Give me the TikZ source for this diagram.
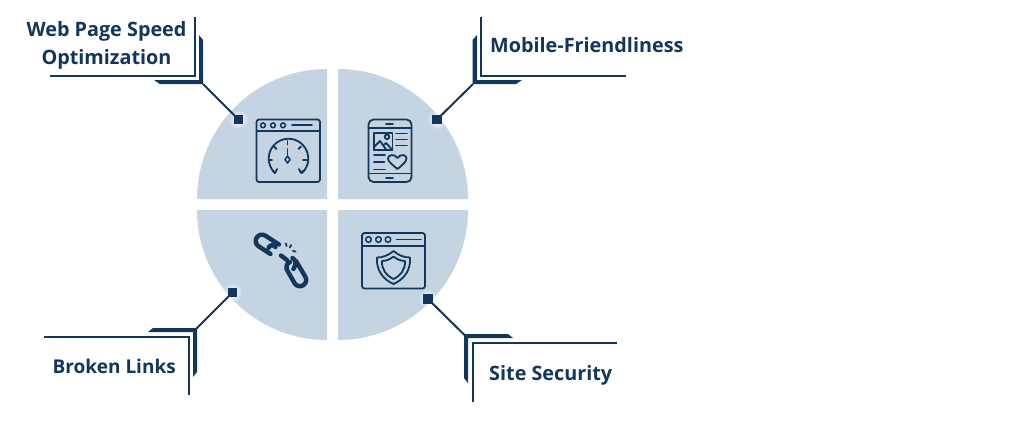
\documentclass[tikz,border=0pt]{standalone}
\usepackage{fontspec}
\setmainfont{Open Sans}
\definecolor{navy}{HTML}{12375A}
\definecolor{quad}{HTML}{C5D4E3}
\tikzset{
  thin line/.style={draw=navy,line width=2pt},
  thick bar/.style={fill=navy,draw=none},
  pad/.style={fill=navy,draw=none,minimum size=9.5pt,inner sep=0pt,rectangle},
  label text/.style={text=navy,font=\fontsize{19.8}{28}\selectfont\bfseries,inner sep=0pt,align=center},
  icon/.style={draw=navy,line width=1.8pt,line cap=round,line join=round},
  link/.style={draw=navy,line width=4.4pt,line cap=round,line join=round},
}
\begin{document}
\begin{tikzpicture}[x=1pt,y=1pt,yscale=-1]
\useasboundingbox (0,0) rectangle (1024,424);
\fill[white] (0,0) rectangle (1024,424);
% quadrants
\fill[quad] (327,199) -- (197,199) arc (180:270:130) -- cycle;
\fill[quad] (338,199) -- (338,69) arc (270:360:130) -- cycle;
\fill[quad] (327,210) -- (327,340) arc (90:180:130) -- cycle;
\fill[quad] (338,210) -- (468,210) arc (0:90:130) -- cycle;
% glows
\begin{scope}
\clip (327,199) -- (197,199) arc (180:270:130) -- cycle;
\shade[inner color=white,outer color=quad] (238.5,119.5) circle (10);
\end{scope}
\begin{scope}
\clip (338,199) -- (338,69) arc (270:360:130) -- cycle;
\shade[inner color=white,outer color=quad] (437,119.5) circle (10);
\end{scope}
\begin{scope}
\clip (327,210) -- (327,340) arc (90:180:130) -- cycle;
\shade[inner color=white,outer color=quad] (232.5,292.5) circle (10);
\end{scope}
\begin{scope}
\clip (338,210) -- (468,210) arc (0:90:130) -- cycle;
\shade[inner color=white,outer color=quad] (428,299) circle (10);
\end{scope}
% pads
\node[pad] (s1) at (238.5,119.5) {};
\node[pad] (s2) at (437,119.5) {};
\node[pad] (s3) at (232.5,292.5) {};
\node[pad] (s4) at (428,299) {};
\coordinate (k1) at (203,84);
\coordinate (k2) at (473,84);
\coordinate (k3) at (196,329);
\coordinate (k4) at (464.5,335);
\draw[thin line] (k1) -- (s1.center);
\draw[thin line] (k2) -- (s2.center);
\draw[thin line] (k3) -- (s3.center);
\draw[thin line] (k4) -- (s4.center);
% brackets
\draw[thin line] (194.5,17) -- (194.5,76) -- (50,76);
\fill[thick bar] (199,35) -- (203,40) -- (203,84) -- (160,84) -- (154,80) -- (199,80) -- cycle;
\draw[thin line] (481,17) -- (481,75.5) -- (626,75.5);
\fill[thick bar] (477,35) -- (472.5,40) -- (472.5,84) -- (516,84) -- (522,80) -- (477,80) -- cycle;
\draw[thin line] (44,336.5) -- (188.5,336.5) -- (188.5,395);
\fill[thick bar] (148,332) -- (153,328) -- (197,328) -- (197,372) -- (193,377) -- (193,332) -- cycle;
\draw[thin line] (617,343) -- (472.5,343) -- (472.5,402);
\fill[thick bar] (464,334) -- (508,334) -- (513,338) -- (468,338) -- (468,383) -- (464,378) -- cycle;
% labels
\node[label text] (t1) at (106.5,45) {Web Page Speed\\Optimization};
\node[label text,anchor=base west] (t2) at (490,52) {Mobile-Friendliness};
\node[label text,font=\fontsize{19}{28}\selectfont\bfseries,anchor=base west] (t3) at (52.5,373) {Broken Links};
\node[label text,anchor=base west] (t4) at (489,380) {Site Security};
% icon 1: speed browser
\draw[icon] (256.5,119.5) [rounded corners=2.5pt] rectangle (320,182);
\draw[icon] (256.5,131) -- (320,131);
\foreach \x in {263,273,283} \draw[icon,line width=1.5pt] (\x,125.3) circle (2.4);
\draw[icon] (292,125.3) -- (312,125.3);
\draw[icon] (275,173) arc (133:407:19.8);
\draw[icon] (275,173) -- (272.5,170.5) (275,173) -- (277,169);
\draw[icon] (301,173) -- (303.5,170.5) (301,173) -- (299,169);
\draw[icon] (287.5,141) -- (287.5,144.5);
\draw[icon] (274,146.5) -- (276.5,149);
\draw[icon] (301,146.5) -- (298.5,149);
\draw[icon] (268.5,160) -- (272,160);
\draw[icon] (306.5,160) -- (303,160);
\draw[icon] (287.5,149) -- (287.5,156);
\draw[icon,line width=1.5pt] (287.5,156) -- (290,159.5) -- (287.5,163) -- (285,159.5) -- cycle;
% icon 2: phone
\draw[icon] (368.5,119.5) [rounded corners=5pt] rectangle (411.5,182);
\draw[icon] (368.5,128) -- (411.5,128);
\draw[icon] (368.5,173.5) -- (411.5,173.5);
\draw[icon] (386,123.7) -- (393,123.7);
\draw[icon] (386,178) -- (393,178);
\draw[icon] (374,133) rectangle (392.5,150);
\draw[icon] (387,136.8) circle (2.3);
\draw[icon] (374,150) -- (374,147) -- (380,141) -- (386.5,150);
\draw[icon] (383,145.5) -- (386,143) -- (392.5,150);
\draw[icon] (396,133.5) -- (407,133.5);
\draw[icon] (396,139.5) -- (407,139.5);
\draw[icon] (396,145.5) -- (407,145.5);
\draw[icon] (374,155) -- (385,155);
\draw[icon] (374,162) -- (384.5,162);
\draw[icon] (374,169.5) -- (385,169.5);
\draw[icon] (397.5,169) .. controls (392,164.5) and (388,161.5) .. (388,158.5)
  .. controls (388,154.5) and (394.5,153.5) .. (397.5,158)
  .. controls (400.5,153.5) and (406.5,154.5) .. (406.5,158.5)
  .. controls (406.5,161.5) and (403,164.5) .. (397.5,169) -- cycle;
% icon 3: chain
\draw[link] (279,244.5) -- (265.3,235.6) arc (302:122:6.3) -- (270.5,254);
\draw[link] (268.5,248) .. controls (270,244.5) and (273,244.5) .. (275.5,247);
\draw[link] (281,255.5) -- (287,260);
\draw[link] (296,261) -- (305.2,276.5) arc (-33:147:6.3) -- (286.5,269)
  .. controls (285.5,266) and (287,263.5) .. (290,262);
\draw[link] (292.5,258) .. controls (296,260) and (296.5,264) .. (293.5,269);
\draw[icon,line width=1.8pt] (286,243.5) -- (286.5,246);
\draw[icon,line width=1.8pt] (291,245) -- (289.8,247.5);
\draw[icon,line width=1.8pt] (295.5,251.5) -- (293,251);
% icon 4: shield
\draw[icon] (362,233) [rounded corners=2.5pt] rectangle (425,288.5);
\draw[icon] (362,245.7) -- (425,245.7);
\foreach \x in {368.5,378.5,388} \draw[icon,line width=1.5pt] (\x,239.5) circle (2.8);
\draw[icon] (396.5,239.5) -- (421,239.5);
\draw[icon] (393.5,251) .. controls (399,255.5) and (404,257.5) .. (410,257.5)
  .. controls (411,270) and (404,279.5) .. (393.5,284)
  .. controls (383,279.5) and (376,270) .. (377,257.5)
  .. controls (383,257.5) and (388,255.5) .. (393.5,251) -- cycle;
\draw[icon] (393.5,256.5) .. controls (397.5,259.5) and (401,261) .. (405,261)
  .. controls (405.5,269) and (401,275.5) .. (393.5,279)
  .. controls (386,275.5) and (381.5,269) .. (382,261)
  .. controls (386,261) and (389.5,259.5) .. (393.5,256.5) -- cycle;
\end{tikzpicture}
\end{document}
